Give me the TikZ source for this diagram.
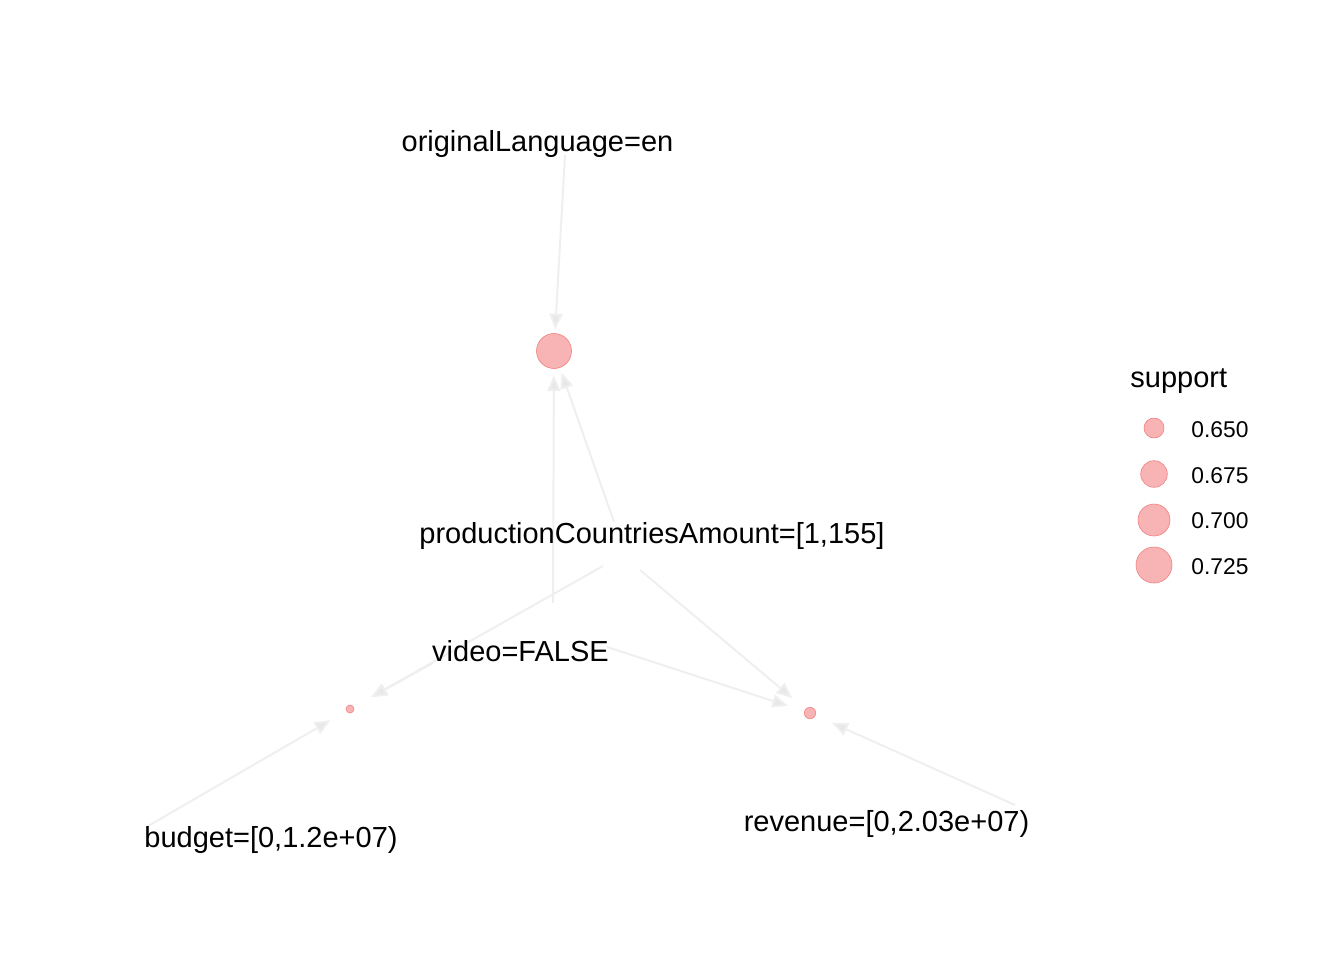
\documentclass[tikz,border=0pt]{standalone}
\usepackage{fontspec}
\setmainfont{Liberation Sans}
\usetikzlibrary{arrows.meta}
\definecolor{edgegray}{RGB}{239,239,239}
\definecolor{tipgray}{RGB}{232,232,232}
\definecolor{rulefill}{RGB}{248,180,180}
\definecolor{ruleline}{RGB}{240,128,128}
\tikzset{
  edge/.style={draw=edgegray, line width=1pt,
    -{Triangle[length=8pt,width=6.5pt,fill=tipgray]}},
  rulept/.style={circle, fill=rulefill, draw=ruleline, line width=0.3pt, inner sep=0pt},
  itemlabel/.style={anchor=base, inner sep=0pt, font=\fontsize{14.5pt}{17pt}\selectfont},
  legtitle/.style={anchor=base west, inner sep=0pt, font=\fontsize{14.5pt}{17pt}\selectfont},
  legtext/.style={anchor=base west, inner sep=0pt, font=\fontsize{11.4pt}{13pt}\selectfont},
}
\begin{document}
\begin{tikzpicture}[x=0.5pt, y=-0.5pt]
\useasboundingbox (0,0) rectangle (1344,960);

% rule vertices, sized by support
\node[rulept, minimum size=17.5pt] (r1) at (554,351) {};
\node[rulept, minimum size=4pt] (r2) at (350,709) {};
\node[rulept, minimum size=5.7pt] (r3) at (810,713) {};

% visible starting points of the item edges
\coordinate (lang-r1)  at (565,155);
\coordinate (vid-r1)   at (553,603);
\coordinate (prod-r1)  at (614,522);
\coordinate (prod-r2)  at (603,566);
\coordinate (vid-r2)   at (433,663);
\coordinate (bud-r2)   at (148,826);
\coordinate (prod-r3)  at (640,570);
\coordinate (vid-r3)   at (607,647);
\coordinate (rev-r3)   at (1015,805);

% item -> rule edges
\draw[edge, shorten >=1.8pt] (lang-r1) -- (r1);
\draw[edge, shorten >=3.2pt] (vid-r1) -- (r1);
\draw[edge, shorten >=2.5pt] (prod-r1) -- (r1);
\draw[edge, shorten >=10pt] (prod-r2) -- (r2);
\draw[edge, shorten >=10pt] (vid-r2) -- (r2);
\draw[edge, shorten >=9pt] (bud-r2) -- (r2);
\draw[edge, shorten >=8.5pt] (prod-r3) -- (r3);
\draw[edge, shorten >=8.5pt] (vid-r3) -- (r3);
\draw[edge, shorten >=9pt] (rev-r3) -- (r3);

% item labels
\node[itemlabel] (lang) at (537.5,151) {originalLanguage=en};
\node[itemlabel] (prod) at (652,543) {productionCountriesAmount=[1,155]};
\node[itemlabel] (vid) at (520.5,661) {video=FALSE};
\node[itemlabel] (bud) at (271,847) {budget=[0,1.2e+07)};
\node[itemlabel] (rev) at (886.5,831) {revenue=[0,2.03e+07)};

% legend
\node[legtitle] (legtitle) at (1130,387) {support};
\node[rulept, minimum size=10pt] (k1) at (1154,428) {};
\node[rulept, minimum size=13.3pt] (k2) at (1154,474) {};
\node[rulept, minimum size=16pt] (k3) at (1154,520) {};
\node[rulept, minimum size=18pt] (k4) at (1154,565) {};
\node[legtext] (t1) at (1191,437) {0.650};
\node[legtext] (t2) at (1191,483) {0.675};
\node[legtext] (t3) at (1191,528) {0.700};
\node[legtext] (t4) at (1191,574) {0.725};
\end{tikzpicture}
\end{document}
